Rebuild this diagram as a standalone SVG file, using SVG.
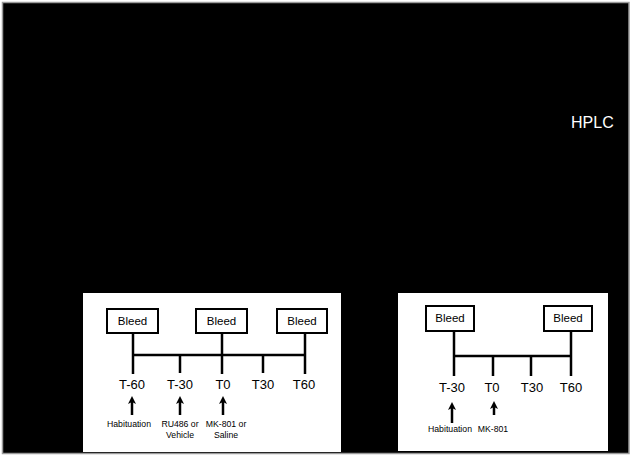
<svg xmlns="http://www.w3.org/2000/svg" width="632" height="457" viewBox="0 0 632 457">
<defs>
<style>
.bg{fill:#000;stroke:#9a9a9a;stroke-width:1.5}
.panel{fill:#fff;stroke:none}
.box{fill:#fff;stroke:#000;stroke-width:2}
.ln{stroke:#000;stroke-width:2.5;fill:none;stroke-linecap:butt}
.arr{stroke:#000;stroke-width:2.5;fill:none;marker-end:url(#ah)}
.t{font-family:"Liberation Sans",Arial,sans-serif;fill:#000;text-anchor:middle}
.bl{font-size:11.5px}
.tm{font-size:13px}
.sm{font-size:8.7px}
.hplc{font-family:"Liberation Sans",Arial,sans-serif;font-size:16px;fill:#fff}
</style>
<marker id="ah" markerUnits="userSpaceOnUse" markerWidth="10" markerHeight="10" viewBox="0 0 10 10" refX="5" refY="5" orient="auto">
<path d="M1,1 L9,5 L1,9 L3,5 Z" fill="#000"/>
</marker>
</defs>
<rect width="632" height="457" fill="#fff"/>
<rect class="bg" x="2.5" y="2.5" width="626.5" height="451"/>
<text id="hplc" class="hplc" x="571" y="128">HPLC</text>

<g id="panel-left">
<rect class="panel" x="83" y="293" width="258" height="159"/>
</g>
<g id="panel-right">
<rect class="panel" x="398" y="293" width="210" height="158"/>
</g>

<g id="connectors">
<line class="ln" x1="133" y1="333" x2="133" y2="374"/>
<line class="ln" x1="222" y1="333" x2="222" y2="374"/>
<line class="ln" x1="305" y1="333" x2="305" y2="374"/>
<line class="ln" x1="133" y1="355" x2="305" y2="355"/>
<line class="ln" x1="180" y1="355" x2="180" y2="373"/>
<line class="ln" x1="263" y1="355" x2="263" y2="373"/>
<line class="arr" x1="132" y1="415" x2="132" y2="400"/>
<line class="arr" x1="180" y1="415" x2="180" y2="400"/>
<line class="arr" x1="223" y1="415" x2="223" y2="400"/>

<line class="ln" x1="454" y1="331" x2="454" y2="376"/>
<line class="ln" x1="571" y1="331" x2="571" y2="376"/>
<line class="ln" x1="454" y1="356" x2="571" y2="356"/>
<line class="ln" x1="493" y1="356" x2="493" y2="376"/>
<line class="ln" x1="531" y1="356" x2="531" y2="376"/>
<line class="arr" x1="452" y1="423" x2="452" y2="406"/>
<line class="arr" x1="494" y1="415" x2="494" y2="405"/>
</g>

<g id="L-bleed1"><rect class="box" x="107" y="309" width="51" height="24"/><text class="t bl" x="132.5" y="325">Bleed</text></g>
<g id="L-bleed2"><rect class="box" x="196" y="309" width="51" height="24"/><text class="t bl" x="221.5" y="325">Bleed</text></g>
<g id="L-bleed3"><rect class="box" x="277" y="309" width="50" height="24"/><text class="t bl" x="302" y="325">Bleed</text></g>

<g id="L-times">
<text class="t tm" x="132" y="389">T-60</text>
<text class="t tm" x="180" y="389">T-30</text>
<text class="t tm" x="223" y="389">T0</text>
<text class="t tm" x="263" y="389">T30</text>
<text class="t tm" x="304" y="389">T60</text>
</g>
<g id="L-events">
<text class="t sm" x="129" y="427">Habituation</text>
<text class="t sm" x="180" y="427">RU486 or</text>
<text class="t sm" x="180" y="438">Vehicle</text>
<text class="t sm" x="226" y="427">MK-801 or</text>
<text class="t sm" x="226" y="438">Saline</text>
</g>

<g id="R-bleed1"><rect class="box" x="426" y="306" width="48" height="25"/><text class="t bl" x="450" y="322">Bleed</text></g>
<g id="R-bleed2"><rect class="box" x="544" y="306" width="48" height="25"/><text class="t bl" x="568" y="322">Bleed</text></g>

<g id="R-times">
<text class="t tm" x="452" y="392">T-30</text>
<text class="t tm" x="492" y="392">T0</text>
<text class="t tm" x="532" y="392">T30</text>
<text class="t tm" x="571" y="392">T60</text>
</g>
<g id="R-events">
<text class="t sm" x="450" y="432">Habituation</text>
<text class="t sm" x="493" y="432">MK-801</text>
</g>
</svg>
